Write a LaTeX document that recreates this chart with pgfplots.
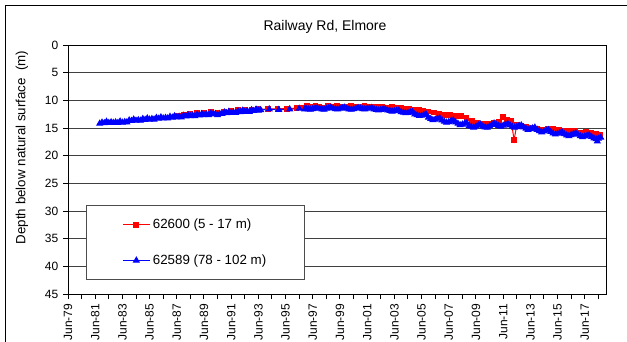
\documentclass[border=0pt]{standalone}
\usepackage{pgfplots}
\pgfplotsset{compat=1.18}
\usepackage{fontspec}
\setmainfont{Liberation Sans}

% Bore 62600 (shallow) - depth to water, decimal years
\pgfplotstableread{
x y
1987.6 12.8
1988.0 12.6
1988.5 12.4
1989.0 12.3
1989.5 12.2
1990.0 12.1
1990.5 12.2
1991.0 12.0
1991.5 11.9
1992.0 11.8
1992.5 11.8
1993.0 11.7
1993.5 11.6
1994.2 11.6
1994.9 11.5
1995.6 11.5
1996.3 11.4
1996.8 11.3
1997.1 11.0
1997.4 11.2
1997.7 11.0
1998.0 11.1
1998.3 11.3
1998.6 11.0
1999.0 11.1
1999.3 11.0
1999.6 11.2
2000.0 11.1
2000.3 11.0
2000.6 11.2
2001.0 11.1
2001.3 11.0
2001.6 11.2
2002.0 11.1
2002.3 11.2
2002.6 11.1
2003.0 11.3
2003.3 11.2
2003.6 11.3
2004.0 11.4
2004.3 11.5
2004.6 11.5
2005.0 11.7
2005.3 11.8
2005.6 11.9
2006.0 12.0
2006.4 12.2
2006.8 12.4
2007.2 12.6
2007.6 12.7
2008.0 12.8
2008.4 12.9
2008.8 13.2
2009.2 13.7
2009.6 14.0
2010.0 14.3
2010.4 14.3
2010.8 14.1
2011.2 13.9
2011.5 13.0
2011.8 13.6
2012.1 13.8
2012.3 17.2
2012.5 14.4
2012.8 14.6
2013.2 14.8
2013.6 15.0
2014.0 15.2
2014.4 15.3
2014.8 15.2
2015.2 15.1
2015.6 15.4
2016.0 15.5
2016.4 15.6
2016.8 15.6
2017.2 15.8
2017.6 15.7
2018.0 15.8
2018.3 16.0
2018.6 16.3
}\shallow

% Bore 62589 (deep) - depth to water, decimal years
\pgfplotstableread{
x y
1981.83 14.2
1982.00 14.0
1982.17 14.1
1982.33 13.85
1982.50 14.05
1982.67 13.95
1982.83 14.05
1983.00 13.95
1983.17 14.05
1983.33 13.8
1983.50 14.0
1983.67 13.9
1983.83 13.95
1984.00 13.6
1984.17 13.7
1984.33 13.45
1984.50 13.65
1984.67 13.55
1984.83 13.65
1985.00 13.35
1985.17 13.5
1985.33 13.25
1985.50 13.45
1985.67 13.35
1985.83 13.45
1986.00 13.15
1986.17 13.3
1986.33 13.05
1986.50 13.25
1986.67 13.15
1986.83 13.25
1987.00 12.95
1987.17 13.1
1987.33 12.85
1987.50 13.05
1987.67 12.95
1987.83 13.05
1988.00 12.75
1988.17 12.9
1988.33 12.65
1988.50 12.85
1988.67 12.75
1988.83 12.85
1989.00 12.55
1989.17 12.7
1989.33 12.45
1989.50 12.65
1989.67 12.55
1989.83 12.65
1990.00 12.35
1990.17 12.5
1990.33 12.45
1990.50 12.65
1990.67 12.45
1990.83 12.45
1991.00 12.15
1991.17 12.3
1991.33 12.05
1991.50 12.25
1991.67 12.15
1991.83 12.25
1992.00 11.95
1992.17 12.1
1992.33 11.85
1992.50 12.05
1992.67 11.95
1992.83 12.05
1993.00 11.75
1993.17 11.9
1993.33 11.65
1993.50 11.85
1993.67 11.75
1994.30 11.6
1995.00 11.7
1995.80 11.6
1996.50 11.5
1996.90 11.6
1997.00 11.5
1997.17 11.6
1997.33 11.65
1997.50 11.55
1997.67 11.45
1997.83 11.35
1998.00 11.5
1998.17 11.6
1998.33 11.65
1998.50 11.5
1998.67 11.4
1998.83 11.3
1999.00 11.45
1999.17 11.55
1999.33 11.6
1999.50 11.5
1999.67 11.4
1999.83 11.3
2000.00 11.5
2000.17 11.6
2000.33 11.65
2000.50 11.55
2000.67 11.45
2000.83 11.35
2001.00 11.45
2001.17 11.55
2001.33 11.6
2001.50 11.5
2001.67 11.4
2001.83 11.35
2002.00 11.6
2002.17 11.7
2002.33 11.8
2002.50 11.7
2002.67 11.6
2002.83 11.55
2003.00 11.8
2003.17 11.9
2003.33 12.0
2003.50 11.95
2003.67 11.85
2003.83 11.8
2004.00 12.1
2004.17 12.2
2004.33 12.3
2004.50 12.25
2004.67 12.15
2004.83 12.1
2005.00 12.5
2005.17 12.65
2005.33 12.8
2005.50 12.75
2005.67 12.6
2005.83 12.5
2006.00 13.1
2006.17 13.35
2006.33 13.55
2006.50 13.45
2006.67 13.3
2006.83 13.2
2007.00 13.6
2007.17 13.85
2007.33 14.0
2007.50 13.9
2007.67 13.7
2007.83 13.6
2008.00 13.95
2008.17 14.2
2008.33 14.45
2008.50 14.35
2008.67 14.2
2008.83 14.1
2009.00 14.6
2009.17 14.75
2009.33 14.9
2009.50 14.7
2009.67 14.5
2009.83 14.35
2010.00 14.7
2010.17 14.85
2010.33 14.9
2010.50 14.65
2010.67 14.4
2010.83 14.15
2011.00 14.4
2011.17 14.6
2011.33 14.75
2011.50 14.55
2011.67 14.35
2011.83 14.2
2012.00 14.5
2012.17 14.75
2012.33 14.9
2012.50 14.8
2012.67 14.6
2012.83 14.5
2013.00 14.85
2013.17 15.1
2013.33 15.3
2013.50 15.2
2013.67 15.05
2013.83 14.9
2014.00 15.3
2014.17 15.55
2014.33 15.75
2014.50 15.6
2014.67 15.45
2014.83 15.35
2015.00 15.7
2015.17 15.95
2015.33 16.15
2015.50 16.0
2015.67 15.85
2015.83 15.75
2016.00 16.1
2016.17 16.3
2016.33 16.45
2016.50 16.25
2016.67 16.05
2016.83 15.9
2017.00 16.2
2017.17 16.45
2017.33 16.65
2017.50 16.5
2017.67 16.35
2017.83 16.25
2018.00 16.6
2018.17 16.85
2018.33 17.0
2018.42 17.4
2018.50 16.9
2018.67 16.7
}\deep

\begin{document}
\begin{tikzpicture}
% outer chart frame
\draw[black, line width=0.75pt] (3.75pt,-300pt) -- (3.75pt,-4.5pt) -- (500pt,-4.5pt);

\begin{axis}[
  at={(51pt,-220.5pt)}, anchor=south west,
  scale only axis, width=403.5pt, height=186.75pt,
  xmin=1979.5, xmax=2019.06,
  ymin=0, ymax=45, y dir=reverse,
  ytick={0,5,...,45},
  xtick={1979.5,1980.5,...,2018.5},
  xticklabels={Jun-79,{},Jun-81,{},Jun-83,{},Jun-85,{},Jun-87,{},Jun-89,{},Jun-91,{},Jun-93,{},Jun-95,{},Jun-97,{},Jun-99,{},Jun-01,{},Jun-03,{},Jun-05,{},Jun-07,{},Jun-09,{},Jun-11,{},Jun-13,{},Jun-15,{},Jun-17,{}},
  xticklabel style={rotate=90, anchor=east},
  tick label style={font=\fontsize{9}{10}\selectfont},
  /pgf/number format/assume math mode=true,
  ymajorgrids,
  major grid style={black!75, line width=0.75pt},
  axis line style={black, line width=0.75pt},
  tick style={black, line width=0.75pt},
  tick align=outside, major tick length=3.75pt,
  xtick pos=left, ytick pos=left,
  legend style={at={(0.0335,0.357)}, anchor=north west,
    draw=black!70, line width=0.75pt, fill=white,
    inner xsep=27pt, inner ysep=8pt, row sep=14pt,
    font=\fontsize{10}{12}\selectfont},
  legend cell align=left,
  legend image code/.code={\draw[mark repeat=2,mark phase=2] plot coordinates {(0pt,0pt)(10pt,0pt)(20pt,0pt)};},
]
\addplot[red, line width=0.75pt, mark=square*, mark size=1.8pt,
  mark options={solid}] table {\shallow};
\addplot[blue, line width=0.75pt, mark=triangle*, mark size=2.4pt,
  mark options={solid}] table {\deep};
\legend{62600 (5 - 17 m), 62589 (78 - 102 m)}
\end{axis}

\node[font=\fontsize{10.5}{12}\selectfont] at (243.75pt,-20.25pt) {Railway Rd, Elmore};
\node[rotate=90, font=\fontsize{10}{12}\selectfont] at (16.5pt,-110.6pt) {Depth below natural surface\ \ (m)};

\pgfresetboundingbox
\path[use as bounding box] (0pt,0pt) rectangle (470.25pt,-256.5pt);
\end{tikzpicture}
\end{document}
